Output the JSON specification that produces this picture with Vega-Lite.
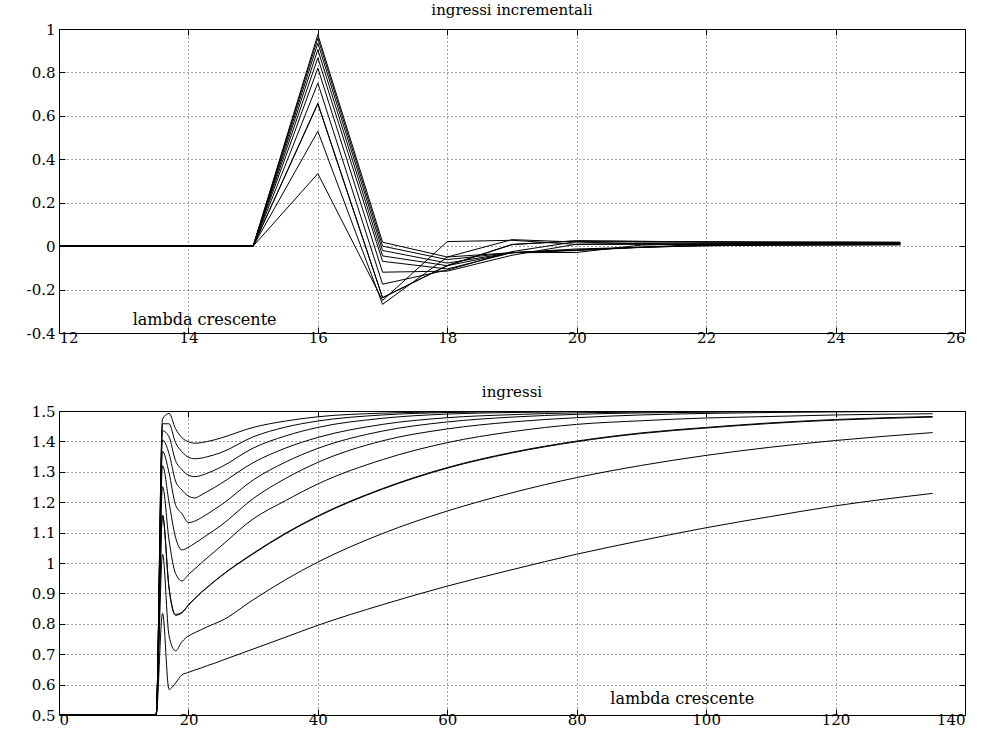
{
  "$schema": "https://vega.github.io/schema/vega-lite/v6.json",
  "background": "white",
  "padding": {"left": 8, "top": 2, "right": 5, "bottom": 5},
  "spacing": 38,
  "config": {
    "font": "DejaVu Serif",
    "view": {"stroke": "black", "strokeWidth": 1},
    "axis": {
      "labelFont": "DejaVu Serif",
      "labelFontSize": 15,
      "labelColor": "black",
      "domain": false,
      "ticks": true,
      "tickColor": "black",
      "tickSize": -6,
      "grid": true,
      "gridColor": "black",
      "gridDash": [1, 3],
      "gridOpacity": 0.75,
      "title": null
    },
    "axisY": {"minExtent": 50, "maxExtent": 50, "labelPadding": 10},
    "axisX": {"labelPadding": 3},
    "title": {"font": "DejaVu Serif", "fontSize": 15, "fontWeight": "normal", "color": "black", "offset": 4},
    "line": {"color": "black", "strokeWidth": 1},
    "text": {"font": "DejaVu Serif", "fontSize": 16, "color": "black"}
  },
  "datasets": {
    "incr": [
      {"s":"S1","x":12,"y":0},{"s":"S1","x":13,"y":0},{"s":"S1","x":14,"y":0},{"s":"S1","x":15,"y":0},
      {"s":"S1","x":16,"y":0.974},{"s":"S1","x":17,"y":0.018},{"s":"S1","x":18,"y":-0.050},{"s":"S1","x":19,"y":-0.030},{"s":"S1","x":20,"y":-0.013},{"s":"S1","x":21,"y":-0.005},{"s":"S1","x":22,"y":0.002},{"s":"S1","x":23,"y":0.004},{"s":"S1","x":24,"y":0.005},{"s":"S1","x":25,"y":0.006},
      {"s":"S2","x":12,"y":0},{"s":"S2","x":13,"y":0},{"s":"S2","x":14,"y":0},{"s":"S2","x":15,"y":0},
      {"s":"S2","x":16,"y":0.958},{"s":"S2","x":17,"y":0.000},{"s":"S2","x":18,"y":-0.062},{"s":"S2","x":19,"y":-0.030},{"s":"S2","x":20,"y":-0.018},{"s":"S2","x":21,"y":-0.005},{"s":"S2","x":22,"y":0.002},{"s":"S2","x":23,"y":0.005},{"s":"S2","x":24,"y":0.006},{"s":"S2","x":25,"y":0.007},
      {"s":"S3","x":12,"y":0},{"s":"S3","x":13,"y":0},{"s":"S3","x":14,"y":0},{"s":"S3","x":15,"y":0},
      {"s":"S3","x":16,"y":0.935},{"s":"S3","x":17,"y":-0.020},{"s":"S3","x":18,"y":-0.078},{"s":"S3","x":19,"y":-0.030},{"s":"S3","x":20,"y":-0.018},{"s":"S3","x":21,"y":-0.005},{"s":"S3","x":22,"y":0.004},{"s":"S3","x":23,"y":0.008},{"s":"S3","x":24,"y":0.009},{"s":"S3","x":25,"y":0.010},
      {"s":"S4","x":12,"y":0},{"s":"S4","x":13,"y":0},{"s":"S4","x":14,"y":0},{"s":"S4","x":15,"y":0},
      {"s":"S4","x":16,"y":0.905},{"s":"S4","x":17,"y":-0.045},{"s":"S4","x":18,"y":-0.090},{"s":"S4","x":19,"y":-0.030},{"s":"S4","x":20,"y":-0.020},{"s":"S4","x":21,"y":-0.006},{"s":"S4","x":22,"y":0.010},{"s":"S4","x":23,"y":0.012},{"s":"S4","x":24,"y":0.012},{"s":"S4","x":25,"y":0.013},
      {"s":"S5","x":12,"y":0},{"s":"S5","x":13,"y":0},{"s":"S5","x":14,"y":0},{"s":"S5","x":15,"y":0},
      {"s":"S5","x":16,"y":0.867},{"s":"S5","x":17,"y":-0.070},{"s":"S5","x":18,"y":-0.105},{"s":"S5","x":19,"y":-0.030},{"s":"S5","x":20,"y":-0.029},{"s":"S5","x":21,"y":0.005},{"s":"S5","x":22,"y":0.011},{"s":"S5","x":23,"y":0.013},{"s":"S5","x":24,"y":0.014},{"s":"S5","x":25,"y":0.014},
      {"s":"S6","x":12,"y":0},{"s":"S6","x":13,"y":0},{"s":"S6","x":14,"y":0},{"s":"S6","x":15,"y":0},
      {"s":"S6","x":16,"y":0.820},{"s":"S6","x":17,"y":-0.120},{"s":"S6","x":18,"y":-0.115},{"s":"S6","x":19,"y":-0.042},{"s":"S6","x":20,"y":0.009},{"s":"S6","x":21,"y":0.013},{"s":"S6","x":22,"y":0.014},{"s":"S6","x":23,"y":0.015},{"s":"S6","x":24,"y":0.014},{"s":"S6","x":25,"y":0.015},
      {"s":"S7","x":12,"y":0},{"s":"S7","x":13,"y":0},{"s":"S7","x":14,"y":0},{"s":"S7","x":15,"y":0},
      {"s":"S7","x":16,"y":0.751},{"s":"S7","x":17,"y":-0.175},{"s":"S7","x":18,"y":-0.110},{"s":"S7","x":19,"y":-0.025},{"s":"S7","x":20,"y":0.021},{"s":"S7","x":21,"y":0.019},{"s":"S7","x":22,"y":0.019},{"s":"S7","x":23,"y":0.019},{"s":"S7","x":24,"y":0.018},{"s":"S7","x":25,"y":0.018},
      {"s":"S8","x":12,"y":0},{"s":"S8","x":13,"y":0},{"s":"S8","x":14,"y":0},{"s":"S8","x":15,"y":0},
      {"s":"S8","x":16,"y":0.658},{"s":"S8","x":17,"y":-0.237},{"s":"S8","x":18,"y":-0.090},{"s":"S8","x":19,"y":0.007},{"s":"S8","x":20,"y":0.024},{"s":"S8","x":21,"y":0.022},{"s":"S8","x":22,"y":0.020},{"s":"S8","x":23,"y":0.018},{"s":"S8","x":24,"y":0.018},{"s":"S8","x":25,"y":0.017},
      {"s":"S9","x":12,"y":0},{"s":"S9","x":13,"y":0},{"s":"S9","x":14,"y":0},{"s":"S9","x":15,"y":0},
      {"s":"S9","x":16,"y":0.655},{"s":"S9","x":17,"y":-0.238},{"s":"S9","x":18,"y":-0.089},{"s":"S9","x":19,"y":0.008},{"s":"S9","x":20,"y":0.025},{"s":"S9","x":21,"y":0.022},{"s":"S9","x":22,"y":0.020},{"s":"S9","x":23,"y":0.018},{"s":"S9","x":24,"y":0.018},{"s":"S9","x":25,"y":0.017},
      {"s":"S10","x":12,"y":0},{"s":"S10","x":13,"y":0},{"s":"S10","x":14,"y":0},{"s":"S10","x":15,"y":0},
      {"s":"S10","x":16,"y":0.529},{"s":"S10","x":17,"y":-0.268},{"s":"S10","x":18,"y":-0.050},{"s":"S10","x":19,"y":0.030},{"s":"S10","x":20,"y":0.019},{"s":"S10","x":21,"y":0.011},{"s":"S10","x":22,"y":0.010},{"s":"S10","x":23,"y":0.010},{"s":"S10","x":24,"y":0.009},{"s":"S10","x":25,"y":0.009},
      {"s":"S11","x":12,"y":0},{"s":"S11","x":13,"y":0},{"s":"S11","x":14,"y":0},{"s":"S11","x":15,"y":0},
      {"s":"S11","x":16,"y":0.334},{"s":"S11","x":17,"y":-0.250},{"s":"S11","x":18,"y":0.021},{"s":"S11","x":19,"y":0.027},{"s":"S11","x":20,"y":0.008},{"s":"S11","x":21,"y":0.008},{"s":"S11","x":22,"y":0.007},{"s":"S11","x":23,"y":0.008},{"s":"S11","x":24,"y":0.007},{"s":"S11","x":25,"y":0.008}
    ],
    "inputs": [
      {"s":"S1","x":0,"y":0.5},{"s":"S1","x":15,"y":0.5},{"s":"S1","x":16,"y":1.474},{"s":"S1","x":17,"y":1.492},{"s":"S1","x":18,"y":1.442},{"s":"S1","x":19,"y":1.412},{"s":"S1","x":20,"y":1.399},{"s":"S1","x":21,"y":1.394},{"s":"S1","x":22,"y":1.396},{"s":"S1","x":23,"y":1.400},{"s":"S1","x":24,"y":1.405},{"s":"S1","x":25,"y":1.411},{"s":"S1","x":30,"y":1.446},{"s":"S1","x":35,"y":1.467},{"s":"S1","x":40,"y":1.481},{"s":"S1","x":50,"y":1.493},{"s":"S1","x":60,"y":1.497},{"s":"S1","x":70,"y":1.499},{"s":"S1","x":80,"y":1.5},{"s":"S1","x":100,"y":1.5},{"s":"S1","x":120,"y":1.5},{"s":"S1","x":135,"y":1.5},
      {"s":"S2","x":0,"y":0.5},{"s":"S2","x":15,"y":0.5},{"s":"S2","x":16,"y":1.458},{"s":"S2","x":17,"y":1.458},{"s":"S2","x":18,"y":1.396},{"s":"S2","x":19,"y":1.366},{"s":"S2","x":20,"y":1.348},{"s":"S2","x":21,"y":1.343},{"s":"S2","x":22,"y":1.345},{"s":"S2","x":23,"y":1.350},{"s":"S2","x":24,"y":1.356},{"s":"S2","x":25,"y":1.363},{"s":"S2","x":30,"y":1.415},{"s":"S2","x":35,"y":1.447},{"s":"S2","x":40,"y":1.467},{"s":"S2","x":50,"y":1.487},{"s":"S2","x":60,"y":1.495},{"s":"S2","x":70,"y":1.498},{"s":"S2","x":80,"y":1.499},{"s":"S2","x":100,"y":1.5},{"s":"S2","x":120,"y":1.5},{"s":"S2","x":135,"y":1.5},
      {"s":"S3","x":0,"y":0.5},{"s":"S3","x":15,"y":0.5},{"s":"S3","x":16,"y":1.435},{"s":"S3","x":17,"y":1.415},{"s":"S3","x":18,"y":1.337},{"s":"S3","x":19,"y":1.307},{"s":"S3","x":20,"y":1.289},{"s":"S3","x":21,"y":1.284},{"s":"S3","x":22,"y":1.288},{"s":"S3","x":23,"y":1.296},{"s":"S3","x":24,"y":1.305},{"s":"S3","x":25,"y":1.315},{"s":"S3","x":30,"y":1.378},{"s":"S3","x":35,"y":1.418},{"s":"S3","x":40,"y":1.446},{"s":"S3","x":50,"y":1.476},{"s":"S3","x":60,"y":1.490},{"s":"S3","x":70,"y":1.495},{"s":"S3","x":80,"y":1.498},{"s":"S3","x":100,"y":1.5},{"s":"S3","x":120,"y":1.5},{"s":"S3","x":135,"y":1.5},
      {"s":"S4","x":0,"y":0.5},{"s":"S4","x":15,"y":0.5},{"s":"S4","x":16,"y":1.405},{"s":"S4","x":17,"y":1.360},{"s":"S4","x":18,"y":1.270},{"s":"S4","x":19,"y":1.240},{"s":"S4","x":20,"y":1.220},{"s":"S4","x":21,"y":1.214},{"s":"S4","x":22,"y":1.224},{"s":"S4","x":23,"y":1.236},{"s":"S4","x":24,"y":1.248},{"s":"S4","x":25,"y":1.261},{"s":"S4","x":30,"y":1.330},{"s":"S4","x":35,"y":1.378},{"s":"S4","x":40,"y":1.413},{"s":"S4","x":50,"y":1.456},{"s":"S4","x":60,"y":1.478},{"s":"S4","x":70,"y":1.488},{"s":"S4","x":80,"y":1.494},{"s":"S4","x":100,"y":1.498},{"s":"S4","x":120,"y":1.5},{"s":"S4","x":135,"y":1.5},
      {"s":"S5","x":0,"y":0.5},{"s":"S5","x":15,"y":0.5},{"s":"S5","x":16,"y":1.367},{"s":"S5","x":17,"y":1.297},{"s":"S5","x":18,"y":1.192},{"s":"S5","x":19,"y":1.162},{"s":"S5","x":20,"y":1.133},{"s":"S5","x":21,"y":1.138},{"s":"S5","x":22,"y":1.149},{"s":"S5","x":23,"y":1.162},{"s":"S5","x":24,"y":1.176},{"s":"S5","x":25,"y":1.190},{"s":"S5","x":30,"y":1.273},{"s":"S5","x":35,"y":1.332},{"s":"S5","x":40,"y":1.377},{"s":"S5","x":50,"y":1.434},{"s":"S5","x":60,"y":1.464},{"s":"S5","x":70,"y":1.480},{"s":"S5","x":80,"y":1.489},{"s":"S5","x":100,"y":1.496},{"s":"S5","x":120,"y":1.499},{"s":"S5","x":135,"y":1.5},
      {"s":"S6","x":0,"y":0.5},{"s":"S6","x":15,"y":0.5},{"s":"S6","x":16,"y":1.320},{"s":"S6","x":17,"y":1.200},{"s":"S6","x":18,"y":1.085},{"s":"S6","x":19,"y":1.043},{"s":"S6","x":20,"y":1.052},{"s":"S6","x":21,"y":1.065},{"s":"S6","x":22,"y":1.079},{"s":"S6","x":23,"y":1.094},{"s":"S6","x":24,"y":1.108},{"s":"S6","x":25,"y":1.123},{"s":"S6","x":30,"y":1.212},{"s":"S6","x":35,"y":1.278},{"s":"S6","x":40,"y":1.331},{"s":"S6","x":50,"y":1.402},{"s":"S6","x":60,"y":1.441},{"s":"S6","x":70,"y":1.464},{"s":"S6","x":80,"y":1.478},{"s":"S6","x":90,"y":1.487},{"s":"S6","x":100,"y":1.492},{"s":"S6","x":120,"y":1.497},{"s":"S6","x":135,"y":1.499},
      {"s":"S7","x":0,"y":0.5},{"s":"S7","x":15,"y":0.5},{"s":"S7","x":16,"y":1.251},{"s":"S7","x":17,"y":1.076},{"s":"S7","x":18,"y":0.966},{"s":"S7","x":19,"y":0.941},{"s":"S7","x":20,"y":0.962},{"s":"S7","x":21,"y":0.981},{"s":"S7","x":22,"y":1.000},{"s":"S7","x":23,"y":1.019},{"s":"S7","x":24,"y":1.037},{"s":"S7","x":25,"y":1.055},{"s":"S7","x":30,"y":1.145},{"s":"S7","x":35,"y":1.205},{"s":"S7","x":40,"y":1.260},{"s":"S7","x":50,"y":1.340},{"s":"S7","x":60,"y":1.396},{"s":"S7","x":70,"y":1.432},{"s":"S7","x":80,"y":1.456},{"s":"S7","x":90,"y":1.468},{"s":"S7","x":100,"y":1.477},{"s":"S7","x":110,"y":1.482},{"s":"S7","x":120,"y":1.487},{"s":"S7","x":135,"y":1.491},
      {"s":"S8","x":0,"y":0.5},{"s":"S8","x":15,"y":0.5},{"s":"S8","x":16,"y":1.158},{"s":"S8","x":17,"y":0.921},{"s":"S8","x":18,"y":0.831},{"s":"S8","x":19,"y":0.838},{"s":"S8","x":20,"y":0.862},{"s":"S8","x":21,"y":0.884},{"s":"S8","x":22,"y":0.904},{"s":"S8","x":23,"y":0.922},{"s":"S8","x":24,"y":0.940},{"s":"S8","x":25,"y":0.957},{"s":"S8","x":30,"y":1.032},{"s":"S8","x":35,"y":1.098},{"s":"S8","x":40,"y":1.155},{"s":"S8","x":50,"y":1.245},{"s":"S8","x":60,"y":1.314},{"s":"S8","x":70,"y":1.364},{"s":"S8","x":80,"y":1.401},{"s":"S8","x":90,"y":1.428},{"s":"S8","x":100,"y":1.446},{"s":"S8","x":110,"y":1.461},{"s":"S8","x":120,"y":1.472},{"s":"S8","x":135,"y":1.482},
      {"s":"S9","x":0,"y":0.5},{"s":"S9","x":15,"y":0.5},{"s":"S9","x":16,"y":1.155},{"s":"S9","x":17,"y":0.917},{"s":"S9","x":18,"y":0.828},{"s":"S9","x":19,"y":0.836},{"s":"S9","x":20,"y":0.861},{"s":"S9","x":21,"y":0.883},{"s":"S9","x":22,"y":0.903},{"s":"S9","x":23,"y":0.921},{"s":"S9","x":24,"y":0.939},{"s":"S9","x":25,"y":0.956},{"s":"S9","x":30,"y":1.030},{"s":"S9","x":35,"y":1.096},{"s":"S9","x":40,"y":1.153},{"s":"S9","x":50,"y":1.243},{"s":"S9","x":60,"y":1.312},{"s":"S9","x":70,"y":1.362},{"s":"S9","x":80,"y":1.399},{"s":"S9","x":90,"y":1.426},{"s":"S9","x":100,"y":1.444},{"s":"S9","x":110,"y":1.459},{"s":"S9","x":120,"y":1.470},{"s":"S9","x":135,"y":1.480},
      {"s":"S10","x":0,"y":0.5},{"s":"S10","x":15,"y":0.5},{"s":"S10","x":16,"y":1.029},{"s":"S10","x":17,"y":0.761},{"s":"S10","x":18,"y":0.711},{"s":"S10","x":19,"y":0.741},{"s":"S10","x":20,"y":0.760},{"s":"S10","x":21,"y":0.771},{"s":"S10","x":22,"y":0.781},{"s":"S10","x":23,"y":0.791},{"s":"S10","x":24,"y":0.800},{"s":"S10","x":25,"y":0.809},{"s":"S10","x":30,"y":0.879},{"s":"S10","x":35,"y":0.945},{"s":"S10","x":40,"y":1.003},{"s":"S10","x":50,"y":1.097},{"s":"S10","x":60,"y":1.171},{"s":"S10","x":70,"y":1.231},{"s":"S10","x":80,"y":1.281},{"s":"S10","x":90,"y":1.321},{"s":"S10","x":100,"y":1.354},{"s":"S10","x":110,"y":1.381},{"s":"S10","x":120,"y":1.403},{"s":"S10","x":135,"y":1.429},
      {"s":"S11","x":0,"y":0.5},{"s":"S11","x":15,"y":0.5},{"s":"S11","x":16,"y":0.834},{"s":"S11","x":17,"y":0.584},{"s":"S11","x":18,"y":0.605},{"s":"S11","x":19,"y":0.632},{"s":"S11","x":20,"y":0.640},{"s":"S11","x":21,"y":0.648},{"s":"S11","x":22,"y":0.655},{"s":"S11","x":23,"y":0.663},{"s":"S11","x":24,"y":0.670},{"s":"S11","x":25,"y":0.678},{"s":"S11","x":30,"y":0.717},{"s":"S11","x":35,"y":0.756},{"s":"S11","x":40,"y":0.795},{"s":"S11","x":50,"y":0.863},{"s":"S11","x":60,"y":0.924},{"s":"S11","x":70,"y":0.978},{"s":"S11","x":80,"y":1.029},{"s":"S11","x":90,"y":1.074},{"s":"S11","x":100,"y":1.116},{"s":"S11","x":110,"y":1.153},{"s":"S11","x":120,"y":1.188},{"s":"S11","x":135,"y":1.229}
    ]
  },
  "vconcat": [
    {
      "title": "ingressi incrementali",
      "width": 906,
      "height": 304,
      "layer": [
        {
          "data": {"name": "incr"},
          "mark": {"type": "line", "clip": true},
          "encoding": {
            "x": {"field": "x", "type": "quantitative", "scale": {"domain": [12, 26], "nice": false, "zero": false},
                  "axis": {"values": [12, 14, 16, 18, 20, 22, 24, 26], "orient": "bottom"}},
            "y": {"field": "y", "type": "quantitative", "scale": {"domain": [-0.4, 1], "nice": false, "zero": false},
                  "axis": {"values": [-0.4, -0.2, 0, 0.2, 0.4, 0.6, 0.8, 1], "orient": "left", "labelExpr": "replace(format(datum.value, '~g'), '\u2212', '-')"}},
            "detail": {"field": "s", "type": "nominal"}
          }
        },
        {
          "data": {"values": [{}]},
          "mark": {"type": "text", "align": "center", "baseline": "middle"},
          "encoding": {
            "x": {"datum": 14.25, "type": "quantitative", "scale": {"domain": [12, 26], "nice": false, "zero": false},
                  "axis": {"values": [12, 14, 16, 18, 20, 22, 24, 26], "orient": "top", "labels": false, "grid": false}},
            "y": {"datum": -0.338, "type": "quantitative", "scale": {"domain": [-0.4, 1], "nice": false, "zero": false},
                  "axis": {"values": [-0.4, -0.2, 0, 0.2, 0.4, 0.6, 0.8, 1], "orient": "right", "labels": false, "grid": false, "minExtent": 0, "maxExtent": 10}},
            "text": {"value": "lambda crescente"}
          }
        }
      ],
      "resolve": {"axis": {"x": "independent", "y": "independent"}}
    },
    {
      "title": "ingressi",
      "width": 906,
      "height": 304,
      "layer": [
        {
          "data": {"name": "inputs"},
          "mark": {"type": "line", "clip": true, "interpolate": "monotone"},
          "encoding": {
            "x": {"field": "x", "type": "quantitative", "scale": {"domain": [0, 140], "nice": false},
                  "axis": {"values": [0, 20, 40, 60, 80, 100, 120, 140], "orient": "bottom"}},
            "y": {"field": "y", "type": "quantitative", "scale": {"domain": [0.5, 1.5], "nice": false, "zero": false},
                  "axis": {"values": [0.5, 0.6, 0.7, 0.8, 0.9, 1, 1.1, 1.2, 1.3, 1.4, 1.5], "orient": "left", "labelExpr": "format(datum.value, '~g')"}},
            "detail": {"field": "s", "type": "nominal"}
          }
        },
        {
          "data": {"values": [{}]},
          "mark": {"type": "text", "align": "center", "baseline": "middle"},
          "encoding": {
            "x": {"datum": 96.3, "type": "quantitative", "scale": {"domain": [0, 140], "nice": false},
                  "axis": {"values": [0, 20, 40, 60, 80, 100, 120, 140], "orient": "top", "labels": false, "grid": false}},
            "y": {"datum": 0.553, "type": "quantitative", "scale": {"domain": [0.5, 1.5], "nice": false, "zero": false},
                  "axis": {"values": [0.5, 0.6, 0.7, 0.8, 0.9, 1, 1.1, 1.2, 1.3, 1.4, 1.5], "orient": "right", "labels": false, "grid": false, "minExtent": 0, "maxExtent": 10}},
            "text": {"value": "lambda crescente"}
          }
        }
      ],
      "resolve": {"axis": {"x": "independent", "y": "independent"}}
    }
  ]
}
